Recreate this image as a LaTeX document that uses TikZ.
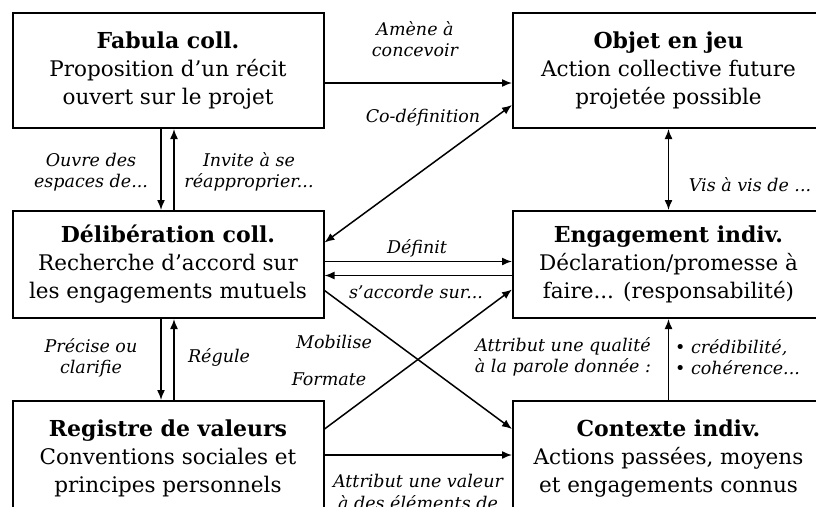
\documentclass[tikz,border=0pt]{standalone}
\usepackage{fontspec}
\setmainfont{DejaVu Serif}
\usetikzlibrary{arrows.meta}
\usetikzlibrary{positioning}

\begin{document}
\begin{tikzpicture}[x=1pt, y=-1pt, node distance = 81pt and 187.5pt]
	\tikzstyle{box}=[rectangle, draw=black, line width=2pt, minimum width=311pt, minimum height=115pt, inner sep=0pt, align=center, font=\fontsize{21.5}{28}\selectfont]
	\tikzstyle{connect}=[-{Latex[length=10pt, width=8pt]}, line width=1.5pt]
	\tikzstyle{both}=[{Latex[length=10pt, width=8pt]}-{Latex[length=10pt, width=8pt]}, line width=1.5pt]
	\tikzstyle{lbl}=[align=center, inner sep=0pt, font=\fontsize{17.5}{21.5}\selectfont\itshape]
	\newcommand{\boxtitle}[1]{{\fontsize{22}{28}\selectfont\bfseries #1}}
	\useasboundingbox (0,0) rectangle (816,506);
	\node[box] (fabula) at (168,70.5) {\boxtitle{Fabula coll.}\\Proposition d'un récit\\ouvert sur le projet};
	\node[box] (objet) [right =of fabula] {\boxtitle{Objet en jeu}\\Action collective future\\projetée possible};
	\node[box, minimum height=107pt] (delib) [below =of fabula] {\boxtitle{Délibération coll.}\\Recherche d'accord sur\\les engagements mutuels};
	\node[box, minimum height=107pt] (engag) [right =of delib] {\boxtitle{Engagement indiv.}\\Déclaration/promesse à\\faire... (responsabilité)};
	\node[box] (registre) [below =of delib] {\boxtitle{Registre de valeurs}\\Conventions sociales et\\principes personnels};
	\node[box] (contexte) [right =of registre] {\boxtitle{Contexte indiv.}\\Actions passées, moyens\\et engagements connus};
	% labels
	\node[lbl] (l_amene) at (415,39) {Amène à\\concevoir};
	\node[lbl] (l_codef) at (423,117) {Co-définition};
	\node[lbl] (l_ouvre) at (91,172) {Ouvre des\\espaces de...};
	\node[lbl] (l_invite) at (249,172) {Invite à se\\réapproprier...};
	\node[lbl] (l_vis) at (750,185) {Vis à vis de ...};
	\node[lbl] (l_definit) at (417,248) {Définit};
	\node[lbl] (l_accorde) at (416,292) {s'accorde sur...};
	\node[lbl] (l_mobilise) at (334,342) {Mobilise};
	\node[lbl] (l_formate) at (329,379) {Formate};
	\node[lbl] (l_precise) at (91,358) {Précise ou\\clarifie};
	\node[lbl] (l_regule) at (219,357) {Régule};
	\node[lbl] (l_qualite) at (563,357) {Attribut une qualité\\à la parole donnée :};
	\node[lbl, align=left, anchor=west] (l_credib) at (675,357) {\textbullet\ crédibilité,\\\textbullet\ cohérence...};
	\node[lbl] (l_valeur) at (418,492) {Attribut une valeur\\à des éléments de};
	\path
		([yshift=-12.5pt]fabula.east) edge [connect] ([yshift=-12.5pt]objet.west)
		([yshift=22pt]delib.east) edge [both] ([yshift=-34.5pt]objet.west)
		([xshift=-7pt]fabula.south) edge [connect] ([xshift=-7pt]delib.north)
		([xshift=6pt]delib.north) edge [connect] ([xshift=6pt]fabula.south)
		(objet.south) edge [both] (engag.north)
		([yshift=3pt]delib.east) edge [connect] ([yshift=3pt]engag.west)
		([yshift=-11pt]engag.west) edge [connect] ([yshift=-11pt]delib.east)
		([yshift=-26pt]delib.east) edge [connect] ([yshift=29.5pt]contexte.west)
		([yshift=29.5pt]registre.east) edge [connect] ([yshift=-25pt]engag.west)
		([xshift=-7pt]delib.south) edge [connect] ([xshift=-7pt]registre.north)
		([xshift=6pt]registre.north) edge [connect] ([xshift=6pt]delib.south)
		([yshift=3.5pt]registre.east) edge [connect] ([yshift=3.5pt]contexte.west)
		(contexte.north) edge [connect] (engag.south)
		;
\end{tikzpicture}
\end{document}
